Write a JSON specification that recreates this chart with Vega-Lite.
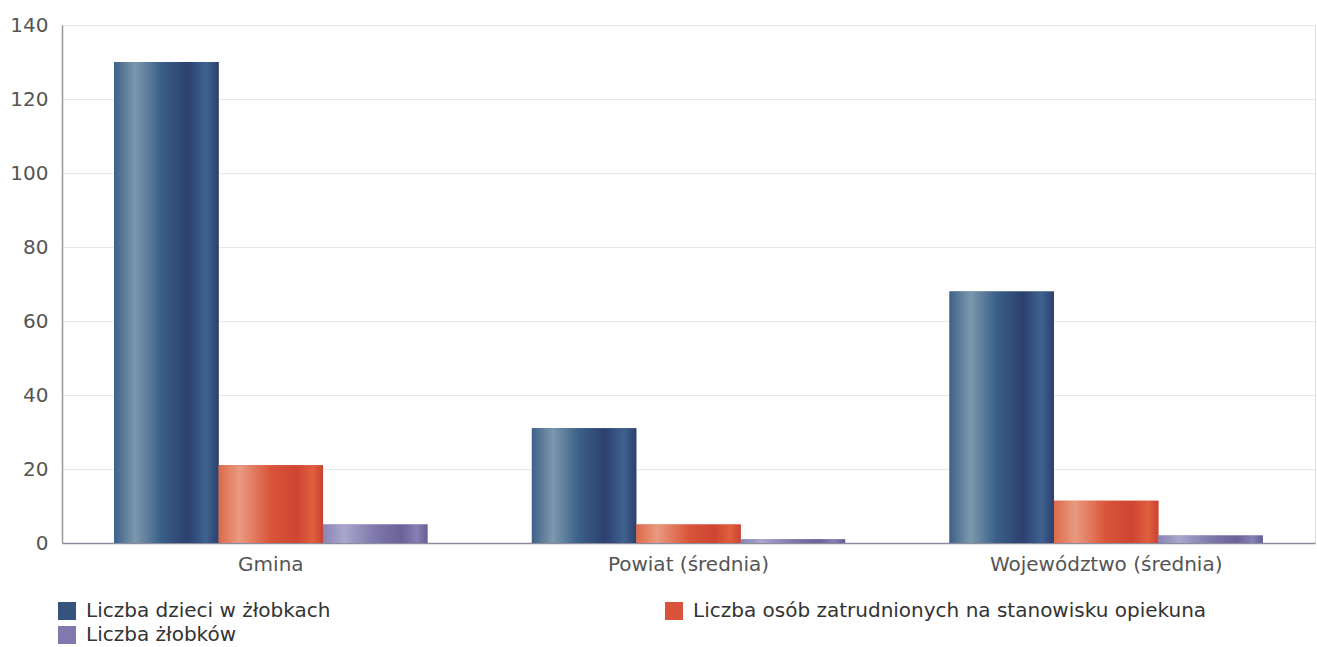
{
  "$schema": "https://vega.github.io/schema/vega-lite/v6.json",
  "width": 1253,
  "height": 518,
  "autosize": {"type": "none"},
  "padding": {"left": 62, "top": 25, "right": 2, "bottom": 104},
  "background": "white",
  "config": {
    "font": "DejaVu Sans",
    "view": {"stroke": "#dddddd", "strokeWidth": 1},
    "axis": {"labelFont": "DejaVu Sans", "labelFontSize": 20, "labelColor": "#555555", "ticks": false, "title": null, "labelLimit": 600}
  },
  "data": {
    "values": [
      {"jednostka": "Gmina", "seria": "Liczba dzieci w żłobkach", "wartosc": 130},
      {"jednostka": "Gmina", "seria": "Liczba osób zatrudnionych na stanowisku opiekuna", "wartosc": 21},
      {"jednostka": "Gmina", "seria": "Liczba żłobków", "wartosc": 5},
      {"jednostka": "Powiat (średnia)", "seria": "Liczba dzieci w żłobkach", "wartosc": 31},
      {"jednostka": "Powiat (średnia)", "seria": "Liczba osób zatrudnionych na stanowisku opiekuna", "wartosc": 5},
      {"jednostka": "Powiat (średnia)", "seria": "Liczba żłobków", "wartosc": 1},
      {"jednostka": "Województwo (średnia)", "seria": "Liczba dzieci w żłobkach", "wartosc": 68},
      {"jednostka": "Województwo (średnia)", "seria": "Liczba osób zatrudnionych na stanowisku opiekuna", "wartosc": 11.4},
      {"jednostka": "Województwo (średnia)", "seria": "Liczba żłobków", "wartosc": 2}
    ]
  },
  "encoding": {
    "x": {
      "field": "jednostka", "type": "nominal", "sort": null,
      "scale": {"paddingInner": 0.25, "paddingOuter": 0.125},
      "axis": {"labelAngle": 0, "labelPadding": 11, "labelLimit": 600, "domainColor": "#8c8ca0", "domainWidth": 1.5, "grid": false}
    },
    "xOffset": {
      "field": "seria", "type": "nominal",
      "scale": {"domain": ["Liczba dzieci w żłobkach", "Liczba osób zatrudnionych na stanowisku opiekuna", "Liczba żłobków"], "paddingInner": 0, "paddingOuter": 0}
    },
    "y": {
      "field": "wartosc", "type": "quantitative",
      "scale": {"domain": [0, 140], "nice": false},
      "axis": {"values": [0, 20, 40, 60, 80, 100, 120, 140], "labelPadding": 14, "domainColor": "#999999", "domainWidth": 1.5, "gridColor": "#e8e8e8"}
    }
  },
  "layer": [
    {
      "mark": {"type": "bar"},
      "encoding": {
        "color": {
          "field": "seria", "type": "nominal",
          "scale": {"domain": ["Liczba dzieci w żłobkach", "Liczba osób zatrudnionych na stanowisku opiekuna", "Liczba żłobków"], "range": ["#34547e", "#d9533a", "#8079ad"]},
          "legend": {
            "title": null, "orient": "none", "legendX": -5, "legendY": 576,
            "direction": "horizontal", "columns": 2, "columnPadding": 333, "rowPadding": 4,
            "symbolType": "square", "symbolSize": 324, "symbolStrokeWidth": 0, "symbolOpacity": 1,
            "labelFont": "DejaVu Sans", "labelFontSize": 20, "labelColor": "#333333", "labelOffset": 9, "labelLimit": 800, "padding": 0
          }
        }
      }
    },
    {
      "transform": [{"filter": "datum.seria === 'Liczba dzieci w żłobkach'"}],
      "mark": {"type": "bar", "color": {"gradient": "linear", "x1": 0, "x2": 1, "y1": 0, "y2": 0,
        "stops": [
          {"offset": 0, "color": "#3e6189"},
          {"offset": 0.2, "color": "#7c98ad"},
          {"offset": 0.45, "color": "#3a5f88"},
          {"offset": 0.7, "color": "#2c406e"},
          {"offset": 0.88, "color": "#3e6290"},
          {"offset": 1, "color": "#2c406c"}
        ]}}
    },
    {
      "transform": [{"filter": "datum.seria === 'Liczba osób zatrudnionych na stanowisku opiekuna'"}],
      "mark": {"type": "bar", "color": {"gradient": "linear", "x1": 0, "x2": 1, "y1": 0, "y2": 0,
        "stops": [
          {"offset": 0, "color": "#dc6a48"},
          {"offset": 0.2, "color": "#e99a80"},
          {"offset": 0.5, "color": "#d9553a"},
          {"offset": 0.75, "color": "#cf4432"},
          {"offset": 0.9, "color": "#e0603e"},
          {"offset": 1, "color": "#c94232"}
        ]}}
    },
    {
      "transform": [{"filter": "datum.seria === 'Liczba żłobków'"}],
      "mark": {"type": "bar", "color": {"gradient": "linear", "x1": 0, "x2": 1, "y1": 0, "y2": 0,
        "stops": [
          {"offset": 0, "color": "#8a84b4"},
          {"offset": 0.2, "color": "#aaa6cc"},
          {"offset": 0.5, "color": "#7f78ab"},
          {"offset": 0.75, "color": "#6a6298"},
          {"offset": 0.9, "color": "#8680b4"},
          {"offset": 1, "color": "#665e92"}
        ]}}
    }
  ]
}
